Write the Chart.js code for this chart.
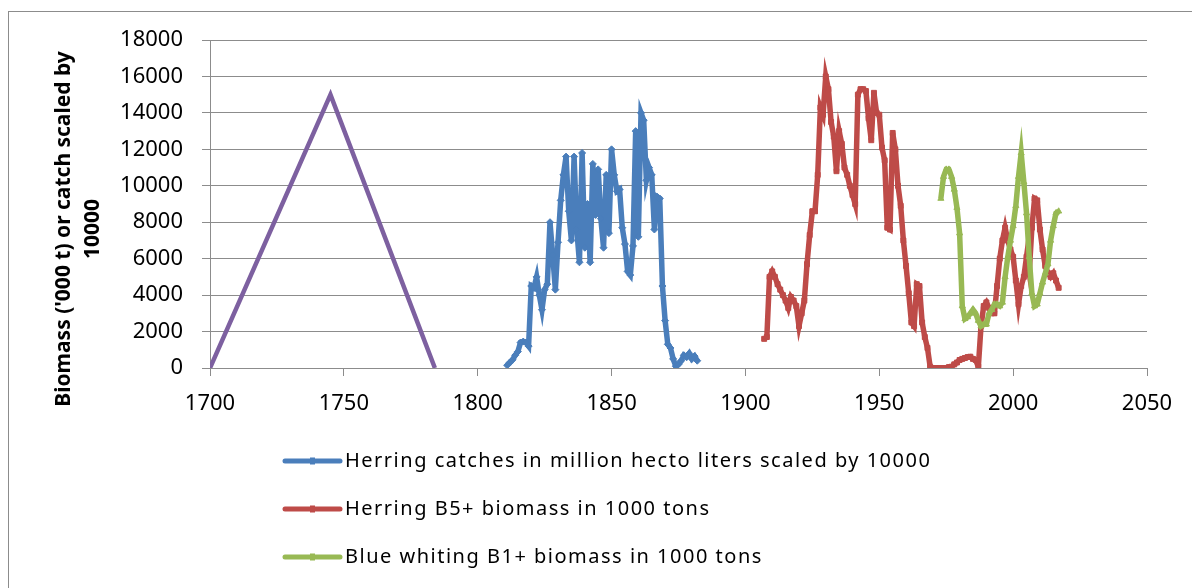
<!DOCTYPE html>
<html>
<head>
<meta charset="utf-8">
<script src="https://cdn.jsdelivr.net/npm/chart.js@4.4.1/dist/chart.umd.min.js"></script>
<style>
  html, body { margin: 0; padding: 0; background: #fff; }
  #wrap { width: 1192px; height: 588px; }
</style>
</head>
<body>
<div id="wrap"><canvas id="myChart" width="1192" height="588"></canvas></div>
<script>
// tick labels
const xTicks = [1700, 1750, 1800, 1850, 1900, 1950, 2000, 2050];
const yTicks = [0, 2000, 4000, 6000, 8000, 10000, 12000, 14000, 16000, 18000];

// herring catches (million hl x 10000)
const catchYears = [];
for (let y = 1811; y <= 1882; y++) catchYears.push(y);
const catchValues = [
    150, 300, 450, 700, 900, 1400, 1450, 1400, 1200, 4500,
    4400, 5000, 4000, 3200, 4300, 4600, 8000, 6200, 4300, 6900,
    9200, 10600, 11600, 8600, 7000, 11600, 7600, 5800, 11800, 6600,
    9000, 5800, 11200, 8400, 10900, 8200, 6600, 10600, 7400, 12000,
    10600, 9700, 9800, 7700, 6800, 5300, 5100, 6700, 13000, 7200,
    14000, 13600, 10300, 11000, 10600, 7600, 9400, 9300, 4500, 2600,
    1300, 1100, 500, 100, 200, 400, 700, 600, 800, 500,
    650, 400
];

// herring B5+ biomass
const herringYears = [];
for (let y = 1907; y <= 2017; y++) herringYears.push(y);
const herringValues = [
    1600, 1700, 5000, 5300, 5000, 4600, 4300, 4000, 3700, 3300,
    3900, 3700, 3400, 2300, 3000, 3700, 5700, 7300, 8600, 8600,
    10600, 14300, 13900, 16000, 15300, 13500, 12700, 10800, 13000, 12300,
    11000, 10600, 10000, 9500, 9000, 15000, 15300, 15300, 15200, 13700,
    12500, 15100, 14000, 13900, 12100, 11400, 7700, 7600, 12900, 12000,
    10000, 8900, 7000, 5600, 4100, 2500, 2300, 4600, 4500, 2500,
    1700, 1100, 70, 0, 0, 0, 0, 0, 0, 50,
    70, 200, 300, 440, 500, 550, 600, 620, 500, 440,
    70, 2300, 3400, 3600, 3300, 3000, 3000, 4500, 6000, 7000,
    7700, 7000, 6500, 6100, 4800, 3500, 4500, 5000, 6100, 5200,
    7700, 9300, 9200, 7600, 6500, 5600, 5200, 5000, 5200, 4800,
    4400
];

// blue whiting B1+ biomass
const whitingYears = [];
for (let y = 1973; y <= 2017; y++) whitingYears.push(y);
const whitingValues = [
    9300, 10500, 10900, 10900, 10500, 9800, 8800, 7400, 3400, 2700,
    2800, 3000, 3200, 3000, 2600, 2300, 2400, 2400, 3000, 3200,
    3500, 3500, 3400, 3600, 5000, 6100, 7000, 7800, 8900, 10500,
    11800, 10200, 8500, 6100, 4100, 3400, 3500, 4100, 4700, 5200,
    5700, 7000, 7800, 8500, 8600
];

// triangle
const triYears = [1700, 1745, 1784];
const triValues = [0, 15000, 0];

const seriesLabels = [
    'Herring catches in million hecto liters scaled by 10000',
    'Herring B5+ biomass in 1000 tons',
    'Blue whiting B1+ biomass in 1000 tons'
];
const yTitle = ["Biomass ('000 t) or catch scaled by", '10000'];

const pts = (xs, ys) => xs.map((x, i) => ({ x: x, y: ys[i] }));

const FONT = "'Noto Sans', sans-serif";

const frameAndLegend = {
    id: 'frameAndLegend',
    beforeDraw(chart) {
        const ctx = chart.ctx;
        ctx.save();
        ctx.strokeStyle = '#8c8c8c';
        ctx.lineWidth = 1;
        ctx.strokeRect(8.5, 11.5, 1200, 600);
        ctx.restore();
    },
    afterDraw(chart) {
        const ctx = chart.ctx;
        ctx.save();
        // y axis title
        ctx.fillStyle = '#000';
        ctx.font = 'bold 21px ' + FONT;
        ctx.textAlign = 'center';
        ctx.textBaseline = 'middle';
        [64, 93].forEach((x, i) => {
            ctx.save();
            ctx.translate(x, 229);
            ctx.rotate(-Math.PI / 2);
            ctx.fillText(yTitle[i], 0, 0);
            ctx.restore();
        });
        // legend, one row per series
        const rows = [461, 509, 557];
        const ds = [3, 2, 1]; // blue, red, green in dataset list
        rows.forEach((ry, i) => {
            const d = chart.data.datasets[ds[i]];
            ctx.strokeStyle = d.borderColor;
            ctx.lineWidth = 5;
            ctx.lineCap = 'round';
            ctx.beginPath();
            ctx.moveTo(285, ry);
            ctx.lineTo(340, ry);
            ctx.stroke();
            ctx.fillStyle = d.borderColor;
            ctx.fillRect(310, ry - 3.5, 5, 7);
            ctx.fillStyle = '#000';
            ctx.font = '20px ' + FONT;
            ctx.letterSpacing = '1.5px';
            ctx.textAlign = 'left';
            ctx.textBaseline = 'middle';
            ctx.fillText(seriesLabels[i], 345, ry);
            ctx.letterSpacing = '0px';
        });
        ctx.restore();
    }
};

const canvasContext = document.getElementById('myChart').getContext('2d');

new Chart(canvasContext, {
    type: 'line',
    data: {
        datasets: [
            {
                data: pts(triYears, triValues),
                borderColor: '#7D60A0',
                borderWidth: 4.5,
                pointRadius: 0,
            },
            {
                data: pts(whitingYears, whitingValues),
                borderColor: '#98B954',
                backgroundColor: '#98B954',
                borderWidth: 5.5,
                pointStyle: 'triangle',
                pointRadius: 3.5,
                pointBorderWidth: 1,
            },
            {
                data: pts(herringYears, herringValues),
                borderColor: '#BE4B48',
                backgroundColor: '#BE4B48',
                borderWidth: 5.5,
                pointStyle: 'rect',
                pointRadius: 3.5,
                pointBorderWidth: 1,
            },
            {
                data: pts(catchYears, catchValues),
                borderColor: '#4A7EBB',
                backgroundColor: '#4A7EBB',
                borderWidth: 5.5,
                pointStyle: 'rectRot',
                pointRadius: 3.5,
                pointBorderWidth: 1,
            }
        ]
    },
    options: {
        responsive: false,
        animation: false,
        devicePixelRatio: 1,
        layout: { padding: { top: 40, right: 45, bottom: 0, left: 0 } },
        plugins: { legend: { display: false }, tooltip: { enabled: false } },
        elements: { line: { tension: 0 } },
        scales: {
            x: {
                type: 'linear',
                min: 1700,
                max: 2050,
                afterBuildTicks: (scale) => { scale.ticks = xTicks.map(v => ({ value: v })); },
                afterFit: (scale) => { scale.height = 220; },
                grid: { drawOnChartArea: false, color: '#8c8c8c', tickLength: 8 },
                border: { color: '#8c8c8c' },
                ticks: {
                    color: '#000', font: { family: FONT, size: 22 }, padding: 15,
                    callback: (v) => String(v)
                }
            },
            y: {
                min: 0,
                max: 18000,
                afterBuildTicks: (scale) => { scale.ticks = yTicks.map(v => ({ value: v })); },
                afterFit: (scale) => { scale.width = 210; },
                grid: { color: '#8c8c8c', tickLength: 8 },
                border: { color: '#8c8c8c' },
                ticks: {
                    color: '#000', font: { family: FONT, size: 22 }, padding: 19,
                    callback: (v) => String(v)
                }
            }
        }
    },
    plugins: [frameAndLegend]
});
</script>
</body>
</html>
